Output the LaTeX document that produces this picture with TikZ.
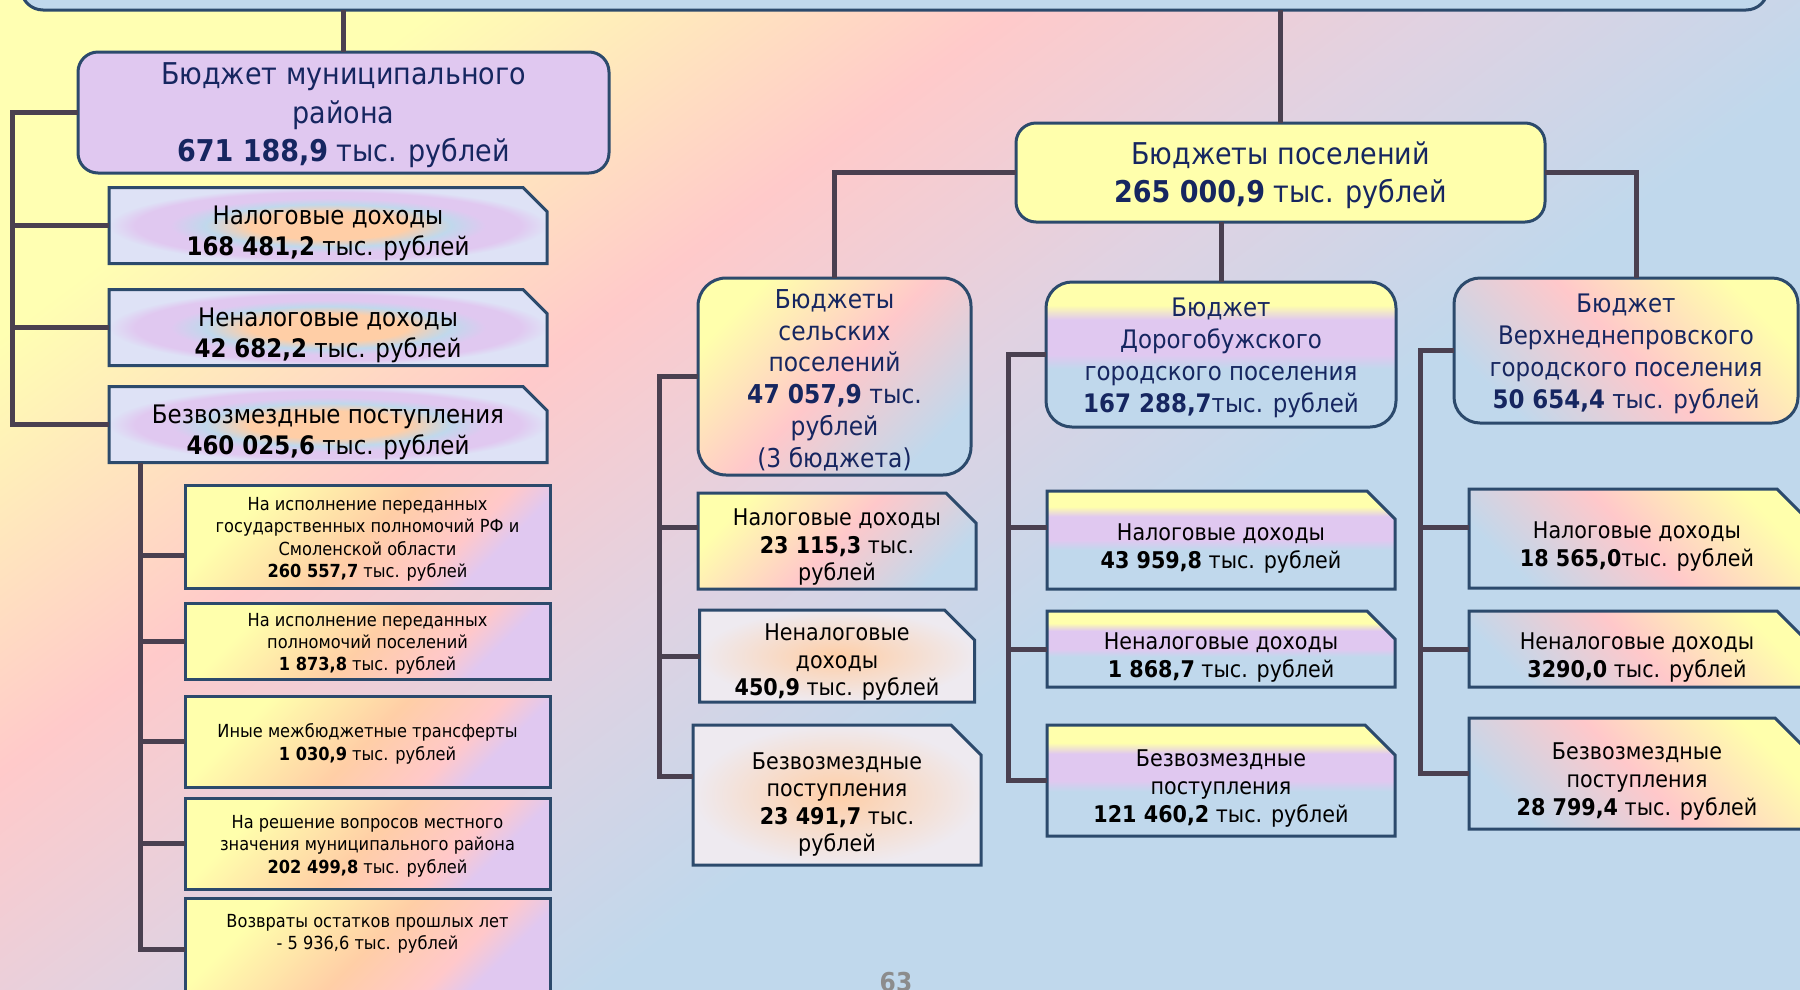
\documentclass[tikz,border=0pt]{standalone}
\usepackage{fontspec}
\setmainfont{DejaVu Sans}[FakeStretch=0.9]
\usetikzlibrary{positioning, shapes.misc}

\definecolor{bgyellow}{RGB}{255,255,178}
\definecolor{bgpink}{RGB}{255,202,202}
\definecolor{bglav}{RGB}{224,210,226}
\definecolor{bgblue}{RGB}{192,216,236}
\definecolor{edgeblue}{RGB}{44,74,108}
\definecolor{busgray}{RGB}{74,64,80}
\definecolor{navytext}{RGB}{22,38,96}
\definecolor{lavfill}{RGB}{224,200,240}
\definecolor{ylwfill}{RGB}{255,255,172}
\definecolor{pinkfill}{RGB}{255,200,202}
\definecolor{bluefill}{RGB}{192,216,236}
\definecolor{peachfill}{RGB}{255,206,166}
\definecolor{palefill}{RGB}{238,234,240}
\definecolor{paleblue}{RGB}{222,226,246}
\definecolor{pagegray}{RGB}{140,140,140}

\pgfdeclareverticalshading{bgshade}{100bp}{color(0bp)=(bgblue); color(42bp)=(bgblue); color(52bp)=(bglav); color(62bp)=(bgpink); color(75bp)=(bgyellow); color(100bp)=(bgyellow)}
\pgfdeclareverticalshading{dorshade}{100bp}{color(0bp)=(bluefill); color(45bp)=(bluefill); color(50bp)=(lavfill); color(62bp)=(lavfill); color(67bp)=(ylwfill); color(100bp)=(ylwfill)}
\pgfdeclareverticalshading{subshade}{100bp}{color(0bp)=(lavfill); color(25bp)=(lavfill); color(28bp)=(lavfill); color(35bp)=(pinkfill); color(50bp)=(peachfill); color(72bp)=(ylwfill); color(100bp)=(ylwfill)}
\pgfdeclareradialshading{glowshade}{\pgfpoint{0bp}{0bp}}{color(0bp)=(peachfill); color(9bp)=(peachfill); color(14bp)=(bluefill); color(18bp)=(lavfill); color(22bp)=(lavfill); color(25bp)=(paleblue); color(50bp)=(paleblue)}

\newlength\textdrop
\newcommand\dropped[1]{\raisebox{-\textdrop}[\height][\depth]{\begin{tabular}{@{}c@{}}#1\end{tabular}}}

\begin{document}
\begin{tikzpicture}[
    x=1pt, y=-1pt,
    textdrop/.style={execute at begin node={\setlength\textdrop{#1}}},
    box/.style={draw=edgeblue, line width=3pt, inner sep=0pt, outer sep=0pt, textdrop=0pt},
    headbox/.style={box, rounded corners=20pt, text=navytext, font=\fontsize{30}{38.5}\selectfont},
    townbox/.style={box, rounded corners=26pt, text=navytext, font=\fontsize{25.5}{31.8}\selectfont, textdrop=3.5pt, minimum width=344pt, minimum height=145pt},
    incbox/.style={box, chamfered rectangle, chamfered rectangle corners=north east, chamfered rectangle xsep=#1, chamfered rectangle ysep=#1, inner xsep=-#1, inner ysep=-#1},
    incbox/.default=13pt,
    bigbox/.style={incbox=12pt, shade, shading=glowshade, font=\fontsize{25.5}{31}\selectfont, textdrop=8.5pt, minimum width=438pt, minimum height=76pt},
    subbox/.style={box, shade, shading=subshade, shading angle=45, font=\fontsize{18}{22.2}\selectfont, textdrop=3pt, minimum width=365pt},
    smallbox/.style={incbox=15pt, font=\fontsize{23}{28}\selectfont, textdrop=8.5pt},
    selsmall/.style={incbox=15pt, font=\fontsize{23}{27.5}\selectfont, textdrop=6.5pt},
    selfill/.style={top color=ylwfill, bottom color=bluefill, middle color=pinkfill, shading angle=45},
    glowfill/.style={inner color=peachfill, outer color=palefill},
    dorfill/.style={shade, shading=dorshade},
    verfill/.style={top color=ylwfill, bottom color=bluefill, middle color=pinkfill, shading angle=-45},
    bus/.style={draw=busgray, line width=5pt}
]

\useasboundingbox (0,0) rectangle (1800,989);
\shade[shading=bgshade, shading angle=37] (0,0) rectangle (1800,989);

\node[box, rounded corners=22pt, fill=bluefill, minimum width=1747pt, minimum height=70pt] (total) at (894.5,-25) {};

% municipal district
\node[headbox, fill=lavfill, textdrop=3pt, minimum width=531pt, minimum height=121pt] (mun) at (343.5,112.5) {\dropped{Бюджет муниципального\\района\\\textbf{671 188,9} тыс. рублей}};
\node[bigbox] (nalog) at (328,225.5) {\dropped{Налоговые доходы\\\textbf{168 481,2} тыс. рублей}};
\node[bigbox, below=26pt of nalog] (nenalog) {\dropped{Неналоговые доходы\\\textbf{42 682,2} тыс. рублей}};
\node[bigbox, below=21pt of nenalog] (bezv) {\dropped{Безвозмездные поступления\\\textbf{460 025,6} тыс. рублей}};

\node[subbox, minimum height=103pt] (suba) at (367.5,536.5) {\dropped{На исполнение переданных\\государственных полномочий РФ и\\Смоленской области\\\textbf{260 557,7} тыс. рублей}};
\node[subbox, minimum height=76pt, below=15pt of suba] (subb) {\dropped{На исполнение переданных\\полномочий поселений\\\textbf{1 873,8} тыс. рублей}};
\node[subbox, minimum height=91pt, below=17pt of subb] (subc) {\dropped{Иные межбюджетные трансферты\\\textbf{1 030,9} тыс. рублей}};
\node[subbox, minimum height=91pt, below=11pt of subc] (subd) {\dropped{На решение вопросов местного\\значения муниципального района\\\textbf{202 499,8} тыс. рублей}};
\node[subbox, minimum height=102pt, textdrop=-15pt, below=9pt of subd] (sube) {\dropped{Возвраты остатков прошлых лет\\- 5 936,6 тыс. рублей}};

% settlements
\node[headbox, fill=ylwfill, textdrop=3.5pt, minimum width=529pt, minimum height=99pt] (pos) at (1280.5,172.5) {\dropped{Бюджеты поселений\\\textbf{265 000,9} тыс. рублей}};

\node[box, selfill, rounded corners=28pt, text=navytext, font=\fontsize{26}{31.7}\selectfont, textdrop=5pt, minimum width=273pt, minimum height=197pt] (sel) at (834.5,376.5) {\dropped{Бюджеты\\сельских\\поселений\\\textbf{47 057,9} тыс.\\рублей\\(3 бюджета)}};
\node[selsmall, selfill, minimum width=278pt, minimum height=96pt] (sn) at (837,541) {\dropped{Налоговые доходы\\\textbf{23 115,3} тыс.\\рублей}};
\node[selsmall, glowfill, minimum width=275pt, minimum height=92pt, below=21pt of sn] (snn) {\dropped{Неналоговые\\доходы\\\textbf{450,9} тыс. рублей}};
\node[selsmall, glowfill, textdrop=10pt, minimum width=288pt, minimum height=140pt, below=23pt of snn] (sb) {\dropped{Безвозмездные\\поступления\\\textbf{23 491,7} тыс.\\рублей}};

\node[townbox, dorfill, minimum width=350pt] (dor) at (1221,354.5) {\dropped{Бюджет\\Дорогобужского\\городского поселения\\\textbf{167 288,7}тыс. рублей}};
\node[smallbox, dorfill, minimum width=348pt, minimum height=98pt, below=64pt of dor] (dn) {\dropped{Налоговые доходы\\\textbf{43 959,8} тыс. рублей}};
\node[smallbox, dorfill, minimum width=348pt, minimum height=76pt, below=22pt of dn] (dnn) {\dropped{Неналоговые доходы\\\textbf{1 868,7} тыс. рублей}};
\node[smallbox, dorfill, minimum width=348pt, minimum height=111pt, below=38pt of dnn] (db) {\dropped{Безвозмездные\\поступления\\\textbf{121 460,2} тыс. рублей}};

\node[townbox, verfill] (ver) at (1626,350.5) {\dropped{Бюджет\\Верхнеднепровского\\городского поселения\\\textbf{50 654,4} тыс. рублей}};
\node[smallbox, verfill, minimum width=336pt, minimum height=99pt] (vn) at (1637,538.5) {\dropped{Налоговые доходы\\\textbf{18 565,0}тыс. рублей}};
\node[smallbox, verfill, minimum width=336pt, minimum height=76pt, below=23pt of vn] (vnn) {\dropped{Неналоговые доходы\\\textbf{3290,0} тыс. рублей}};
\node[smallbox, verfill, minimum width=336pt, minimum height=111pt, below=31pt of vnn] (vb) {\dropped{Безвозмездные\\поступления\\\textbf{28 799,4} тыс. рублей}};

\node[anchor=north, inner sep=0pt, text=pagegray, font=\fontsize{26}{30}\selectfont\bfseries] (pagenum) at (896,972) {63};

\coordinate (lbus) at (12,0);
\coordinate (sbus) at (140,0);
\coordinate (selbus) at (659,0);
\coordinate (dorbus) at (1008,0);
\coordinate (verbus) at (1420,0);

\draw[bus] (mun.north |- total.south) -- (mun.north);
\draw[bus] (pos.north |- total.south) -- (pos.north);

\draw[bus] (mun.west) -- (mun.west -| lbus) -- (bezv.west -| lbus) -- (bezv.west);
\foreach \n in {nalog, nenalog}
  \draw[bus] (\n.west -| lbus) -- (\n.west);

\draw[bus] (bezv.south -| sbus) -- (sube.west -| sbus) -- (sube.west);
\draw[bus] ([yshift=-19pt]suba.west -| sbus) -- ([yshift=-19pt]suba.west);
\foreach \n in {subb, subc, subd}
  \draw[bus] (\n.west -| sbus) -- (\n.west);

\draw[bus] (pos.west) -| (sel.north);
\draw[bus] (dor.north |- pos.south) -- (dor.north);
\draw[bus] (pos.east) -| ([xshift=10pt]ver.north);

\draw[bus] (sel.west) -- (sel.west -| selbus) -- ([yshift=19pt]sb.west -| selbus) -- ([yshift=19pt]sb.west);
\draw[bus] ([yshift=14pt]sn.west -| selbus) -- ([yshift=14pt]sn.west);
\draw[bus] (snn.west -| selbus) -- (snn.west);

\draw[bus] (dor.west) -- (dor.west -| dorbus) -- (db.west -| dorbus) -- (db.west);
\draw[bus] ([yshift=13pt]dn.west -| dorbus) -- ([yshift=13pt]dn.west);
\draw[bus] (dnn.west -| dorbus) -- (dnn.west);

\draw[bus] (ver.west) -- (ver.west -| verbus) -- (vb.west -| verbus) -- (vb.west);
\draw[bus] ([yshift=11pt]vn.west -| verbus) -- ([yshift=11pt]vn.west);
\draw[bus] (vnn.west -| verbus) -- (vnn.west);

\end{tikzpicture}
\end{document}
